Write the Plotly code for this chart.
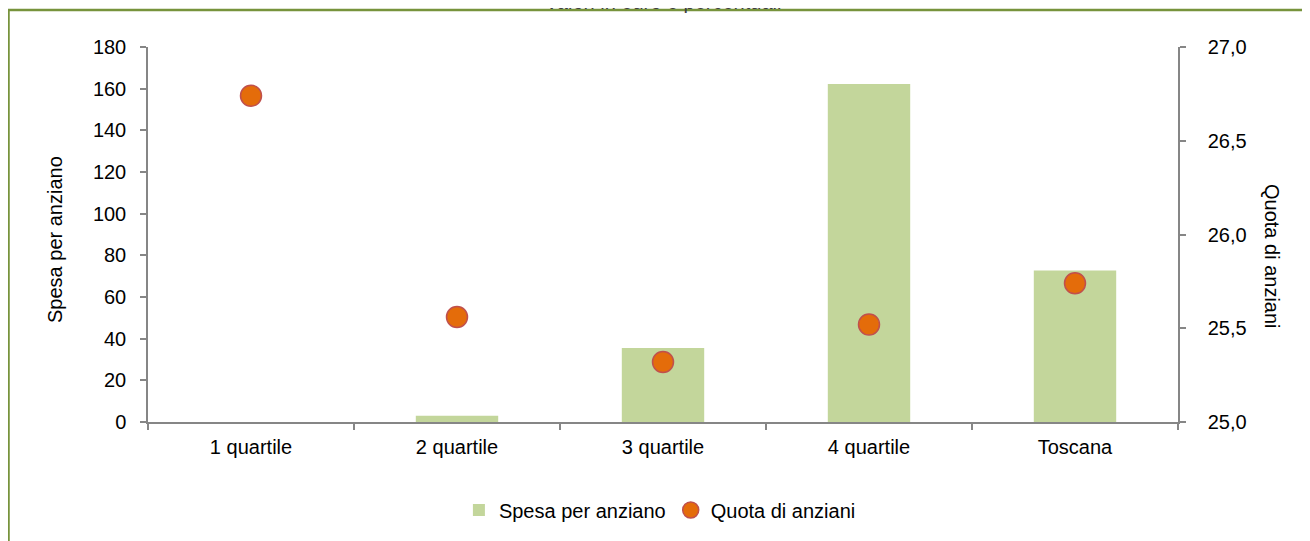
import plotly.graph_objects as go

categories = ["1 quartile", "2 quartile", "3 quartile", "4 quartile", "Toscana"]
spesa_per_anziano = [0, 3, 35.5, 162.2, 72.7]
quota_di_anziani = [26.74, 25.56, 25.32, 25.52, 25.74]

# page body margin offset (browser default 8px)
OFF = 8
W, H = 1310, 541
L, R, T, B = 148 - OFF, 1178 - OFF, 47 - OFF, 422 - OFF
pw, ph = R - L, B - T

def px(X):
    return (X - OFF - L) / pw

def py(Y):
    return (B - (Y - OFF)) / ph

FONT = "Liberation Sans, Arial, sans-serif"
FS = 20
AXC = "#868686"

fig = go.Figure()
fig.add_trace(go.Bar(
    x=categories, y=spesa_per_anziano, name="Spesa per anziano",
    marker=dict(color="#C3D69B", line=dict(width=0)), yaxis="y",
))
fig.add_trace(go.Scatter(
    x=categories, y=quota_di_anziani, name="Quota di anziani", mode="markers",
    marker=dict(size=21, color="#E46C0A", line=dict(color="#C0504D", width=1.5)),
    yaxis="y2",
))

fig.update_layout(
    width=W, height=H,
    margin=dict(l=L, r=W - R, t=T, b=H - B, pad=0),
    paper_bgcolor="white", plot_bgcolor="white",
    font=dict(family=FONT, size=FS, color="#000000"),
    bargap=0.6,
    showlegend=True,
    legend=dict(orientation="h", x=0.497, xanchor="center", y=py(510), yanchor="middle",
                font=dict(size=FS), bgcolor="rgba(0,0,0,0)", itemwidth=30),
    xaxis=dict(
        type="category", showgrid=False, showline=True, linecolor=AXC, linewidth=1.5,
        ticks="outside", ticklen=6, tickcolor=AXC, tickwidth=1.5, tickson="boundaries",
        ticklabelstandoff=6,
    ),
    yaxis=dict(
        range=[0, 180], dtick=20, showgrid=False, showline=True, linecolor=AXC, linewidth=1.5,
        ticks="outside", ticklen=6, tickcolor=AXC, tickwidth=1.5, zeroline=False,
        ticklabelstandoff=10,
    ),
    yaxis2=dict(
        range=[25, 27], dtick=0.5, tickformat=".1f", overlaying="y", side="right",
        showgrid=False, showline=True, linecolor=AXC, linewidth=1.5,
        ticks="outside", ticklen=6, tickcolor=AXC, tickwidth=1.5, zeroline=False,
        ticklabelstandoff=18,
    ),
    separators=",.",
)

fig.add_annotation(text="Spesa per anziano", xref="paper", yref="paper",
                   x=px(55), y=py(240), textangle=-90, showarrow=False,
                   xanchor="center", yanchor="middle", font=dict(size=FS))
fig.add_annotation(text="Quota di anziani", xref="paper", yref="paper",
                   x=px(1272), y=py(256), textangle=90, showarrow=False,
                   xanchor="center", yanchor="middle", font=dict(size=FS))
fig.add_annotation(text="Valori in euro e percentuali", xref="paper", yref="paper",
                   x=px(663), y=py(1.5), showarrow=False,
                   xanchor="center", yanchor="middle", font=dict(size=FS, color="#404040"))

fig.add_shape(type="rect", xref="paper", yref="paper",
              x0=px(8.5), x1=px(1340), y0=py(580), y1=py(10),
              line=dict(color="#77933C", width=2.5), fillcolor="rgba(0,0,0,0)", layer="below")

fig.write_html("out.html")
